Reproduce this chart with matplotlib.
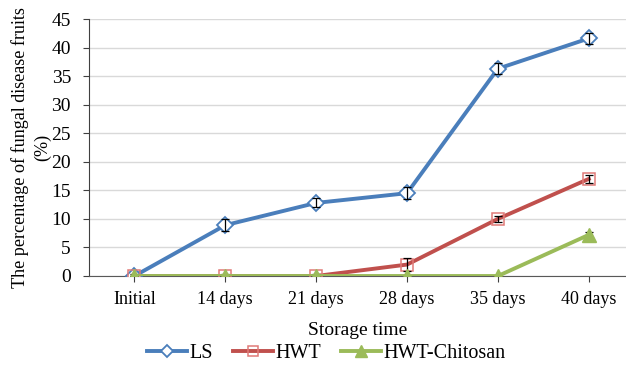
import matplotlib.pyplot as plt
import numpy as np

plt.rcParams['font.family'] = ['Liberation Serif', 'DejaVu Serif']

# Storage periods and disease incidence (%) with standard errors
periods = ['Initial', '14 days', '21 days', '28 days', '35 days', '40 days']
ls = [0, 8.9, 12.8, 14.5, 36.3, 41.6]
ls_err = [0.3, 1.0, 0.8, 1.0, 1.0, 1.0]
hwt = [0, 0, 0, 2.0, 10.0, 17.0]
hwt_err = [0, 0.3, 0.3, 1.2, 0.5, 0.7]
chitosan = [0, 0, 0, 0, 0, 7.2]
chitosan_err = [0, 0, 0, 0, 0, 0.5]

x = np.arange(len(periods))

fig = plt.figure(figsize=(6.26, 3.73), dpi=100)
ax = fig.add_axes([89 / 626, 97 / 373, 537 / 626, 257 / 373])

# LS
ax.plot(x, ls, color='#4a7ebb', lw=2.8, marker='D', ms=8, mfc='white',
        mec='#4a7ebb', mew=1.3, label='LS', zorder=3)
ax.errorbar(x, ls, yerr=ls_err, fmt='none', ecolor='black', elinewidth=0.9,
            capsize=3, capthick=0.9, zorder=4)

# HWT
ax.plot(x, hwt, color='#c0504d', lw=2.8, marker='s', ms=9, mfc='none',
        mec='#e07a78', mew=1.1, label='HWT', zorder=3)
ax.errorbar(x, hwt, yerr=hwt_err, fmt='none', ecolor='black', elinewidth=0.9,
            capsize=3, capthick=0.9, zorder=4)

# HWT-Chitosan
ax.plot(x, chitosan, color='#9bbb59', lw=2.8, marker='^', ms=10,
        mfc='#9bbb59', mec='#9bbb59', label='HWT-Chitosan', zorder=5)
ax.errorbar(x, chitosan, yerr=chitosan_err, fmt='none', ecolor='black',
            elinewidth=0.9, capsize=3, capthick=0.9, zorder=4)

ax.set_ylim(0, 45)
ax.set_yticks(range(0, 46, 5))
ax.set_xlim(-0.5, 5.41)
ax.set_xticks(x)
ax.set_xticklabels(periods, fontsize=13)
ax.tick_params(axis='y', labelsize=14, length=4, width=0.8, color='#404040',
               pad=9)
ax.tick_params(axis='x', length=4, width=0.8, color='#404040', pad=7)

ax.grid(axis='y', color='#d9d9d9', lw=1)
ax.set_axisbelow(True)
for side in ['top', 'right']:
    ax.spines[side].set_visible(False)
ax.spines['left'].set_color('#404040')
ax.spines['bottom'].set_color('#595959')

ax.set_ylabel('The percentage of fungal disease fruits\n(%)', fontsize=13.1,
              linespacing=1.35, labelpad=0)
ax.set_xlabel('Storage time', fontsize=14, labelpad=10)

ax.legend(loc='lower center', bbox_to_anchor=(326 / 626, -0.012),
          bbox_transform=fig.transFigure, ncol=3, frameon=False,
          fontsize=14.5, handlelength=2.0, columnspacing=1.0, handletextpad=0.1,
          borderpad=0.2, markerscale=0.8)

plt.savefig('out.png', dpi=100)
